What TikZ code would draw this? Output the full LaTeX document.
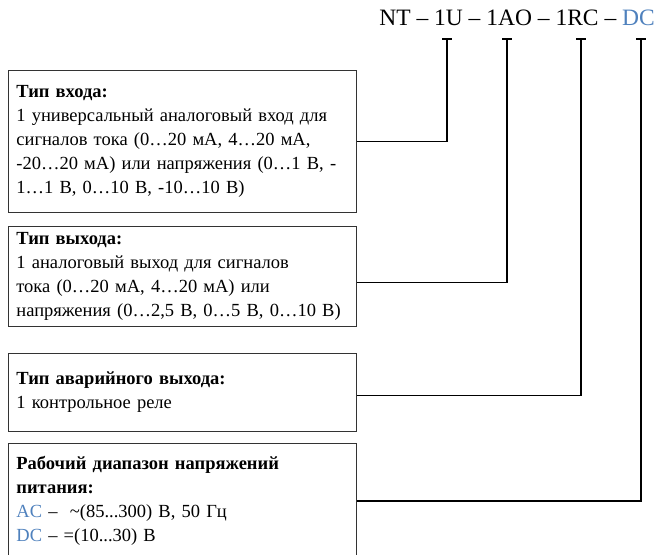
\documentclass[tikz,border=0pt]{standalone}
\usepackage{fontspec}
\setmainfont{Liberation Serif}
\usetikzlibrary{calc}
\definecolor{codeblue}{RGB}{79,129,189}
\tikzset{
  infobox/.style={draw=black!80, line width=0.8pt, anchor=north west, text width=332pt,
    inner xsep=8pt, inner ysep=0pt, align=left, font=\fontsize{18.5}{24}\selectfont},
  link/.style={line width=1.3pt, black}
}
\begin{document}
\begin{tikzpicture}[x=1pt,y=-1pt]
		%%%%% START %%%%%
		\useasboundingbox (0,0) rectangle (658,554);
		
		\node[font=\fontsize{23.5}{28}\selectfont, anchor=east, inner sep=2pt] (code) at (657,18)
		  {NT -- 1U -- 1AO -- 1RC -- \textcolor{codeblue}{DC}};
		
		\coordinate (t1) at (447,39);
		\coordinate (t2) at (507,39);
		\coordinate (t3) at (581,39);
		\coordinate (t4) at (641,39);
		\foreach \t in {t1,t2,t3,t4}
		  \draw[link] ($(\t)+(-5,0)$) -- ($(\t)+(5,0)$);
		
		\node[infobox, minimum height=142pt] (inbox) at (8,70)
		  {\textbf{Тип входа:}\\
		   1 универсальный аналоговый вход для\\ сигналов тока (0…20 мА, 4…20 мА,\\ -20…20 мА) или напряжения (0…1 В, -\\ 1…1 В, 0…10 В, -10…10 В)};
		\node[infobox, minimum height=100pt] (outbox) at (8,226)
		  {\textbf{Тип выхода:}\\
		   1 аналоговый выход для сигналов\\ тока (0…20 мА, 4…20 мА) или\\ напряжения (0…2,5 В, 0…5 В, 0…10 В)};
		\node[infobox, minimum height=78pt] (alarmbox) at (8,353)
		  {\textbf{Тип аварийного выхода:}\\
		   1 контрольное реле};
		\node[infobox, minimum height=115pt] (powerbox) at (8,443)
		  {\textbf{Рабочий диапазон напряжений\\ питания:}\\
		   \textcolor{codeblue}{AC} --\ \ \textasciitilde(85...300) В, 50 Гц\\
		   \textcolor{codeblue}{DC} -- =(10...30) В};
		
		\draw[link] (t1) |- (inbox.east);
		\draw[link] (t2) |- ([yshift=-6pt]outbox.east);
		\draw[link] (t3) |- ([yshift=-3pt]alarmbox.east);
		\draw[link] (t4) |- (powerbox.east);
		
		%%%%% END %%%%%
\end{tikzpicture}
\end{document}
